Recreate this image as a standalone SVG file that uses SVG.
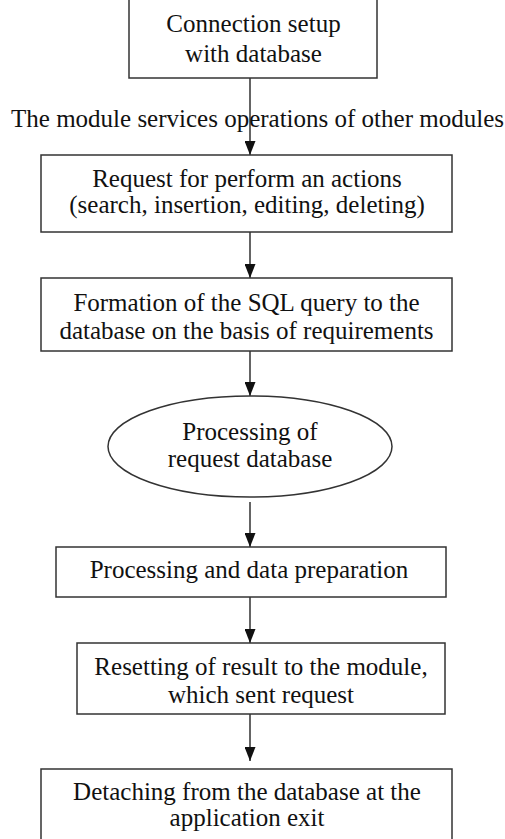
<svg xmlns="http://www.w3.org/2000/svg" width="505" height="839" viewBox="0 0 505 839">
  <defs>
    <marker id="arrow" markerWidth="14" markerHeight="11" refX="14" refY="5.5" orient="auto" markerUnits="userSpaceOnUse" viewBox="0 0 14 11">
      <path d="M0,0 L14,5.5 L0,11 Z" fill="#111"/>
    </marker>
    <style>
      .box { fill: #fff; stroke: #333; stroke-width: 1.5; }
      .lbl { font-family: "Liberation Serif", "Times New Roman", serif; font-size: 25px; fill: #111; text-anchor: middle; }
      .link { stroke: #111; stroke-width: 1.3; fill: none; }
    </style>
  </defs>
  <rect width="505" height="839" fill="#fff"/>

  <!-- connectors -->
  <g id="connectors">
    <line class="link" x1="250" y1="78" x2="250" y2="155" marker-end="url(#arrow)"/>
    <line class="link" x1="250" y1="232" x2="250" y2="278" marker-end="url(#arrow)"/>
    <line class="link" x1="250" y1="351" x2="250" y2="396" marker-end="url(#arrow)"/>
    <line class="link" x1="250" y1="502" x2="250" y2="547" marker-end="url(#arrow)"/>
    <line class="link" x1="250" y1="597" x2="250" y2="643" marker-end="url(#arrow)"/>
    <line class="link" x1="250" y1="714" x2="250" y2="761" marker-end="url(#arrow)"/>
  </g>

  <g id="connect">
    <rect class="box" x="129" y="-10" width="248" height="88"/>
    <text class="lbl" x="253.5" y="32">Connection setup</text>
    <text class="lbl" x="253.5" y="62">with database</text>
  </g>

  <g id="services-label">
    <text class="lbl" x="257.5" y="127">The module services operations of other modules</text>
  </g>

  <g id="request">
    <rect class="box" x="41" y="155" width="411" height="77"/>
    <text class="lbl" x="247" y="187">Request for perform an actions</text>
    <text class="lbl" x="247" y="213">(search, insertion, editing, deleting)</text>
  </g>

  <g id="sql">
    <rect class="box" x="41" y="278" width="411" height="73"/>
    <text class="lbl" x="246.5" y="311">Formation of the SQL query to the</text>
    <text class="lbl" x="246.5" y="339">database on the basis of requirements</text>
  </g>

  <g id="process-request">
    <ellipse class="box" cx="250" cy="446.5" rx="142" ry="50.5"/>
    <text class="lbl" x="250" y="440">Processing of</text>
    <text class="lbl" x="250" y="467">request database</text>
  </g>

  <g id="prepare">
    <rect class="box" x="56" y="547" width="390" height="50"/>
    <text class="lbl" x="249" y="578">Processing and data preparation</text>
  </g>

  <g id="reset">
    <rect class="box" x="77" y="643" width="368" height="71"/>
    <text class="lbl" x="261" y="675">Resetting of result to the module,</text>
    <text class="lbl" x="261" y="703">which sent request</text>
  </g>

  <g id="detach">
    <rect class="box" x="41" y="769" width="411" height="90"/>
    <text class="lbl" x="247" y="800">Detaching from the database at the</text>
    <text class="lbl" x="247" y="826">application exit</text>
  </g>
</svg>
